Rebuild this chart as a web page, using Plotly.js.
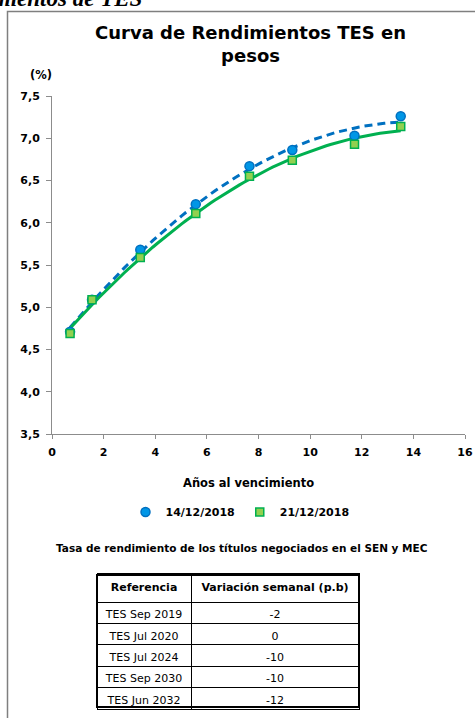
<!DOCTYPE html>
<html>
<head>
<meta charset="utf-8">
<script src="https://cdn.plot.ly/plotly-3.0.1.min.js"></script>
<style>
  html, body { margin: 0; padding: 0; background: #fff; }
  #chart { width: 475px; height: 718px; }
</style>
</head>
<body>
<div id="chart"></div>
<script>
// ---- data ----
const yearsToMaturity = [0.70, 1.55, 3.42, 5.57, 7.65, 9.31, 11.72, 13.51];
const yield_14_12_2018 = [4.71, 5.09, 5.68, 6.22, 6.67, 6.86, 7.03, 7.26];
const yield_21_12_2018 = [4.69, 5.09, 5.59, 6.11, 6.55, 6.74, 6.93, 7.14];
const seriesNames = ['14/12/2018', '21/12/2018'];

const tableHeader = ['Referencia', 'Variación semanal (p.b)'];
const tableRefs = ['TES Sep 2019', 'TES Jul 2020', 'TES Jul 2024', 'TES Sep 2030', 'TES Jun 2032'];
const tableChanges = ['-2', '0', '-10', '-10', '-12'];

const yTicks = [3.5, 4.0, 4.5, 5.0, 5.5, 6.0, 6.5, 7.0, 7.5];
const xTicks = [0, 2, 4, 6, 8, 10, 12, 14, 16];

// ---- 2nd-order polynomial trend line (as the original chart uses) ----
function polyFit2(xs, ys) {
  let n = xs.length, s = [0,0,0,0,0], t = [0,0,0];
  for (let i = 0; i < n; i++) {
    const x = xs[i], y = ys[i];
    let p = 1;
    for (let k = 0; k < 5; k++) { s[k] += p; if (k < 3) t[k] += p * y; p *= x; }
  }
  const A = [[s[0], s[1], s[2], t[0]], [s[1], s[2], s[3], t[1]], [s[2], s[3], s[4], t[2]]];
  for (let i = 0; i < 3; i++) {
    for (let j = i + 1; j < 3; j++) {
      const f = A[j][i] / A[i][i];
      for (let k = i; k < 4; k++) A[j][k] -= f * A[i][k];
    }
  }
  const c = [0,0,0];
  for (let i = 2; i >= 0; i--) {
    let v = A[i][3];
    for (let k = i + 1; k < 3; k++) v -= A[i][k] * c[k];
    c[i] = v / A[i][i];
  }
  return c;
}
function trend(xs, ys) {
  const c = polyFit2(xs, ys);
  const x0 = Math.min(...xs), x1 = Math.max(...xs);
  const tx = [], ty = [];
  for (let i = 0; i <= 80; i++) {
    const x = x0 + (x1 - x0) * i / 80;
    tx.push(x); ty.push(c[0] + c[1] * x + c[2] * x * x);
  }
  return {x: tx, y: ty};
}

const W = 475, H = 718;
const px = v => v / W;
const py = v => 1 - v / H;
const nb = s => s.replace(/ /g, '\u00a0');   // keep each cell on one line

const tb = trend(yearsToMaturity, yield_14_12_2018);
const tg = trend(yearsToMaturity, yield_21_12_2018);

const FONT = '"DejaVu Sans", "Noto Sans", sans-serif';

const traces = [
  {x: tb.x, y: tb.y, mode: 'lines', type: 'scatter', showlegend: false, hoverinfo: 'skip',
   line: {color: '#0070c0', width: 3, dash: '8px,5px'}},
  {x: tg.x, y: tg.y, mode: 'lines', type: 'scatter', showlegend: false, hoverinfo: 'skip',
   line: {color: '#00b050', width: 3}},
  {x: yearsToMaturity, y: yield_14_12_2018, mode: 'markers', type: 'scatter', name: seriesNames[0],
   marker: {symbol: 'circle', size: 9, color: '#0096e6', line: {color: '#0070c0', width: 1.5}}},
  {x: yearsToMaturity, y: yield_21_12_2018, mode: 'markers', type: 'scatter', name: seriesNames[1],
   marker: {symbol: 'square', size: 8, color: '#92d050', line: {color: '#00b050', width: 1.5}}},
  {type: 'table',
   domain: {x: [px(97), px(359)], y: [py(716), py(557)]},
   columnwidth: [94, 168],
   header: {values: [], height: 22, line: {width: 0, color: 'rgba(0,0,0,0)'}, fill: {color: 'rgba(0,0,0,0)'}},
   cells: {values: [['<b>' + nb(tableHeader[0]) + '</b>'].concat(tableRefs.map(nb)),
                    ['<b>' + nb(tableHeader[1]) + '</b>'].concat(tableChanges)],
           height: 21.4, align: 'center',
           line: {color: '#000', width: 1}, fill: {color: '#fff'},
           font: {family: FONT, size: 11, color: '#000'}}}
];

const layout = {
  width: W, height: H,
  margin: {l: 0, r: 0, t: 0, b: 0},
  paper_bgcolor: '#fff', plot_bgcolor: '#fff',
  separators: ',.',
  font: {family: FONT, color: '#000'},
  xaxis: {
    domain: [px(52), px(465)], range: [0, 16], tickvals: xTicks, ticktext: xTicks.map(String),
    showgrid: false, zeroline: false, showline: true, linecolor: '#8c8c8c', linewidth: 1,
    ticks: 'outside', ticklen: 4, tickcolor: '#8c8c8c', ticklabelstandoff: 4,
    tickfont: {family: FONT, size: 11, color: '#000', weight: 'bold'}, fixedrange: true
  },
  yaxis: {
    domain: [py(434), py(96)], range: [3.5, 7.5], tickvals: yTicks, tickformat: '.1f',
    showgrid: false, zeroline: false, showline: true, linecolor: '#8c8c8c', linewidth: 1,
    ticks: 'outside', ticklen: 5, tickcolor: '#8c8c8c', ticklabelstandoff: 4,
    tickfont: {family: FONT, size: 11, color: '#000', weight: 'bold'}, fixedrange: true
  },
  legend: {orientation: 'h', x: px(240), y: py(512), xanchor: 'center', yanchor: 'middle',
           font: {family: FONT, size: 11, color: '#000', weight: 'bold'}, itemwidth: 30,
           bgcolor: 'rgba(0,0,0,0)'},
  annotations: [
    {text: '<i><b>rendimientos de TES</b></i>', xref: 'paper', yref: 'paper', x: px(144), y: py(13),
     xanchor: 'right', yanchor: 'bottom', showarrow: false,
     font: {family: '"Liberation Serif", serif', size: 23, color: '#000'}},
    {text: '<b>Curva de Rendimientos TES en<br>pesos</b>', xref: 'paper', yref: 'paper',
     x: px(250), y: py(44), xanchor: 'center', yanchor: 'middle', showarrow: false,
     font: {family: FONT, size: 18, color: '#000'}},
    {text: '<b>(%)</b>', xref: 'paper', yref: 'paper', x: px(41), y: py(75),
     xanchor: 'center', yanchor: 'middle', showarrow: false, font: {family: FONT, size: 11.5}},
    {text: '<b>Años al vencimiento</b>', xref: 'paper', yref: 'paper', x: px(248), y: py(483),
     xanchor: 'center', yanchor: 'middle', showarrow: false, font: {family: FONT, size: 11.5}},
    {text: '<b>Tasa de rendimiento de los títulos negociados en el SEN y MEC</b>', xref: 'paper', yref: 'paper',
     x: px(242), y: py(548), xanchor: 'center', yanchor: 'middle', showarrow: false,
     font: {family: FONT, size: 10.5}}
  ],
  shapes: [
    {type: 'rect', xref: 'paper', yref: 'paper', x0: px(7.5), x1: px(478), y0: py(722), y1: py(11.5),
     line: {color: '#7f7f7f', width: 1.5}, layer: 'below'},
    {type: 'rect', xref: 'paper', yref: 'paper', x0: px(97), x1: px(359), y0: py(707), y1: py(575),
     line: {color: '#000', width: 2}, layer: 'above'}
  ],
  showlegend: true
};

Plotly.newPlot('chart', traces, layout, {displayModeBar: false, staticPlot: true});
</script>
</body>
</html>
